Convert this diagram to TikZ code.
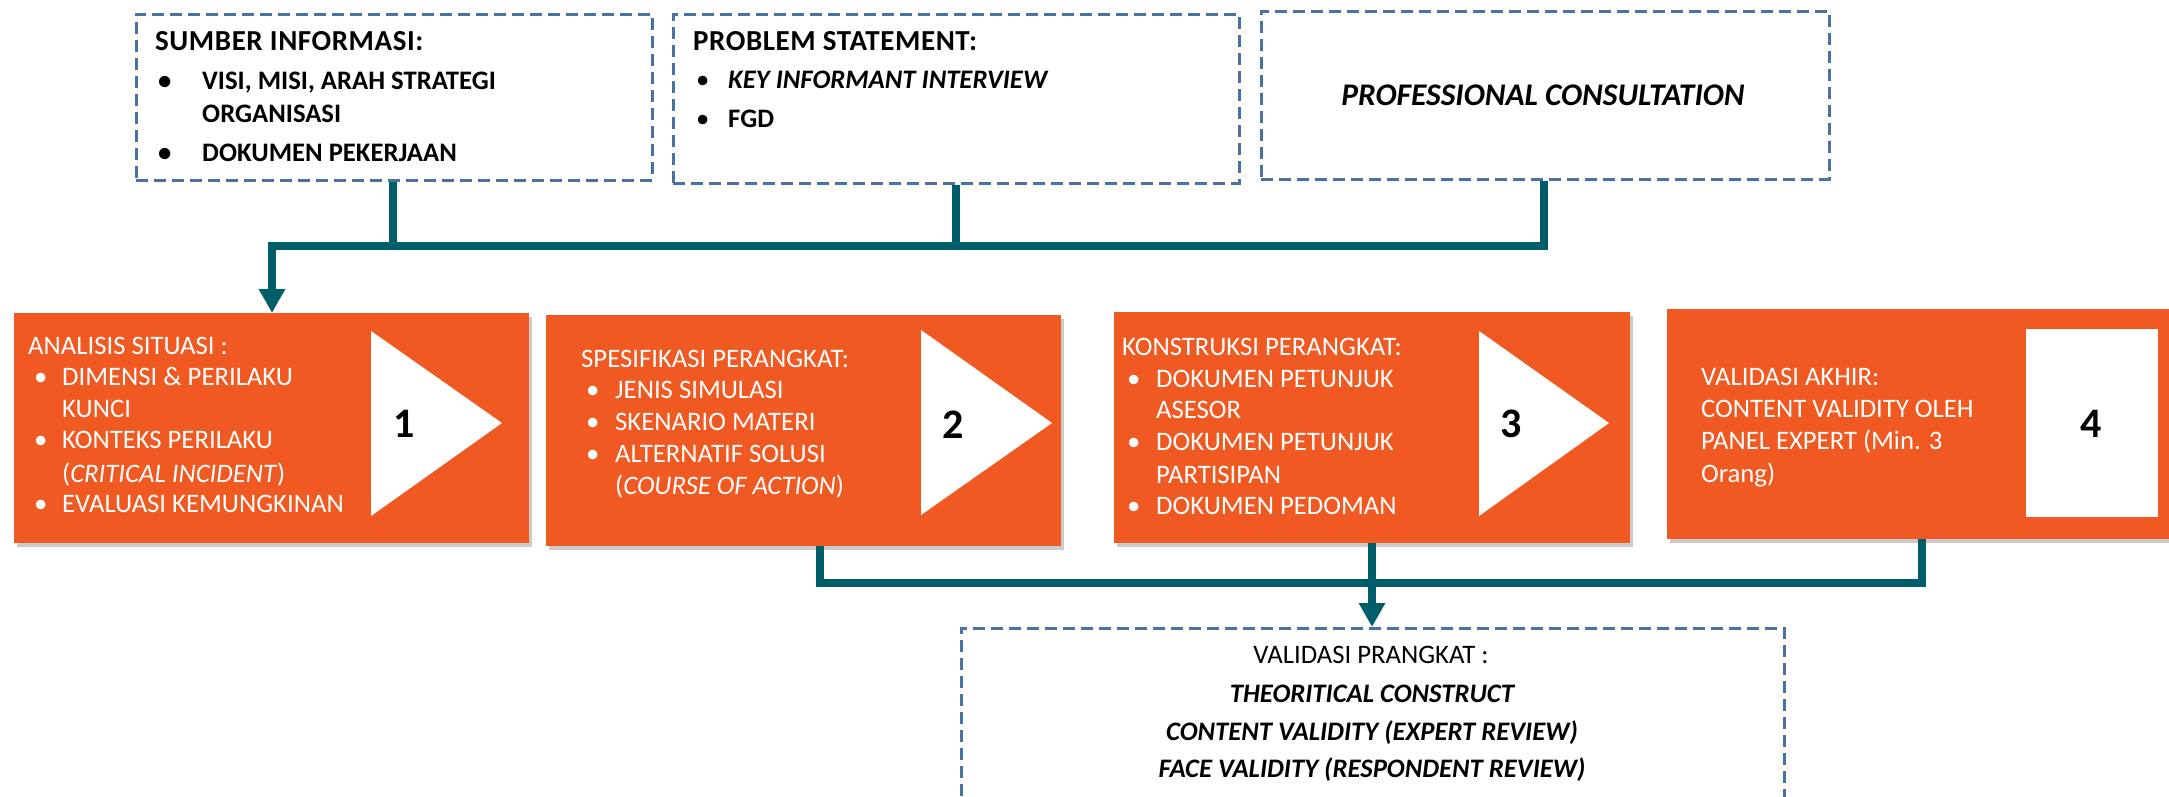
\documentclass[tikz,border=0pt]{standalone}
\usepackage{fontspec}
\setmainfont{Carlito}
\usetikzlibrary{arrows.meta,shadows}
\definecolor{orng}{RGB}{240,90,34}
\definecolor{tealc}{RGB}{0,94,107}
\definecolor{dashblue}{RGB}{74,114,160}
\begin{document}
\begin{tikzpicture}[x=1pt,y=-1pt,
 dbox/.style={draw=dashblue, line width=2.6pt, dash pattern=on 12pt off 6pt, inner sep=0pt, anchor=north west},
 obox/.style={fill=orng, inner sep=0pt, anchor=north west, drop shadow={shadow xshift=3pt,shadow yshift=-4pt,fill=black!40}},
 conn/.style={draw=tealc, line width=8pt},
 tip/.style={-{Triangle[width=25pt,length=24pt]}},
 tx/.style={anchor=base west, inner sep=0pt, font=\fontsize{26.7}{30}\selectfont},
 txb/.style={anchor=base west, inner sep=0pt, font=\fontsize{26.7}{30}\selectfont\bfseries},
 txh/.style={anchor=base west, inner sep=0pt, font=\fontsize{29}{32}\selectfont\bfseries\addfontfeature{LetterSpace=2}},
 txbi/.style={anchor=base west, inner sep=0pt, font=\fontsize{26.7}{30}\selectfont\bfseries\itshape},
 wt/.style={tx, text=white},
 num/.style={font=\fontsize{42}{42}\selectfont\bfseries, inner sep=0pt},
 tri/.style={fill=white}
]
\useasboundingbox (0,0) rectangle (2169,796);
\fill[white] (0,0) rectangle (2169,796);

% top dashed boxes
\node[dbox, minimum width=516pt, minimum height=166pt] (boxA) at (135,13) {};
\node[dbox, minimum width=566pt, minimum height=169pt] (boxB) at (672,13) {};
\node[dbox, minimum width=568pt, minimum height=168pt] (boxC) at (1260,10) {};

% orange boxes
\node[obox, minimum width=515pt, minimum height=230pt] (box1) at (14,313) {};
\node[obox, minimum width=515pt, minimum height=231pt] (box2) at (546,315) {};
\node[obox, minimum width=516pt, minimum height=231pt] (box3) at (1114,312) {};
\node[obox, minimum width=510pt, minimum height=230pt] (box4) at (1667,309) {};

% bottom dashed box
\node[dbox, minimum width=823pt, minimum height=250pt] (boxV) at (960,627) {};

% triangles and square
\fill[tri] (371,331) -- (502,423) -- (371,516) -- cycle;
\fill[tri] (921,330) -- (1052,423) -- (921,515) -- cycle;
\fill[tri] (1479,331) -- (1609,423) -- (1479,516) -- cycle;
\fill[tri] (2026,329) rectangle (2158,517);
\node[num] (n1) at (404,424) {1};
\node[num] (n2) at (953,425) {2};
\node[num] (n3) at (1511,424) {3};
\node[num] (n4) at (2091,424) {4};

% connectors top
\coordinate (jL) at (272,246);
\coordinate (jA) at (393,246);
\coordinate (jB) at (956,246);
\coordinate (jC) at (1544,246);
\draw[conn] (boxA.south -| jA) -- (jA);
\draw[conn] (boxB.south -| jB) -- (jB);
\draw[conn, tip] (boxC.south -| jC) -- (jC) -- (jL) -- (box1.north -| jL);

% connectors bottom
\coordinate (j2) at (820,583);
\coordinate (j3) at (1372,583);
\coordinate (j4) at (1922,583);
\draw[conn] (box2.south -| j2) -- (j2) -- (j4) -- (box4.south -| j4);
\draw[conn, tip] (box3.south -| j3) -- (boxV.north -| j3);

% text box A
\node[txh] (a0) at (155,50) {SUMBER INFORMASI:};
\node[txb] (a1b) at (158,89) {•};
\node[txb] (a1) at (202,89) {VISI, MISI, ARAH STRATEGI};
\node[txb] (a2) at (202,122) {ORGANISASI};
\node[txb] (a3b) at (158,161) {•};
\node[txb] (a3) at (202,161) {DOKUMEN PEKERJAAN};

% text box B
\node[txh] (b0) at (693,50) {PROBLEM STATEMENT:};
\node[tx] (b1b) at (696,88) {•};
\node[txbi] (b1) at (728,88) {KEY INFORMANT INTERVIEW};
\node[tx] (b2b) at (696,127) {•};
\node[txb] (b2) at (728,127) {FGD};

% text box C
\node[anchor=base, inner sep=0pt, font=\fontsize{31.5}{34}\selectfont\bfseries\itshape] (c0) at (1543,105) {PROFESSIONAL CONSULTATION};

% box 1
\node[wt] (t10) at (28,354) {ANALISIS SITUASI :};
\node[wt] (t11b) at (34,385) {•};
\node[wt] (t11) at (62,385) {DIMENSI \& PERILAKU};
\node[wt] (t12) at (62,417) {KUNCI};
\node[wt] (t13b) at (34,448) {•};
\node[wt] (t13) at (62,448) {KONTEKS PERILAKU};
\node[wt] (t14) at (62,482) {(\textit{CRITICAL INCIDENT})};
\node[wt] (t15b) at (34,512) {•};
\node[wt] (t15) at (62,512) {EVALUASI KEMUNGKINAN};

% box 2
\node[wt] (t20) at (581,367) {SPESIFIKASI PERANGKAT:};
\node[wt] (t21b) at (586,398) {•};
\node[wt] (t21) at (615,398) {JENIS SIMULASI};
\node[wt] (t22b) at (586,430) {•};
\node[wt] (t22) at (615,430) {SKENARIO MATERI};
\node[wt] (t23b) at (586,462) {•};
\node[wt] (t23) at (615,462) {ALTERNATIF SOLUSI};
\node[wt] (t24) at (615,494) {(\textit{COURSE OF ACTION})};

% box 3
\node[wt] (t30) at (1122,355) {KONSTRUKSI PERANGKAT:};
\node[wt] (t31b) at (1127,387) {•};
\node[wt] (t31) at (1156,387) {DOKUMEN PETUNJUK};
\node[wt] (t32) at (1156,418) {ASESOR};
\node[wt] (t33b) at (1127,450) {•};
\node[wt] (t33) at (1156,450) {DOKUMEN PETUNJUK};
\node[wt] (t34) at (1156,483) {PARTISIPAN};
\node[wt] (t35b) at (1127,514) {•};
\node[wt] (t35) at (1156,514) {DOKUMEN PEDOMAN};

% box 4
\node[wt] (t40) at (1701,385) {VALIDASI AKHIR:};
\node[wt] (t41) at (1701,417) {CONTENT VALIDITY OLEH};
\node[wt] (t42) at (1701,449) {PANEL EXPERT (Min. 3};
\node[wt] (t43) at (1701,482) {Orang)};

% bottom box
\node[tx, anchor=base] (v0) at (1371,663) {VALIDASI PRANGKAT :};
\node[txbi, anchor=base] (v1) at (1372,702) {THEORITICAL CONSTRUCT};
\node[txbi, anchor=base] (v2) at (1372,740) {CONTENT VALIDITY (EXPERT REVIEW)};
\node[txbi, anchor=base] (v3) at (1372,777) {FACE VALIDITY (RESPONDENT REVIEW)};
\end{tikzpicture}
\end{document}
